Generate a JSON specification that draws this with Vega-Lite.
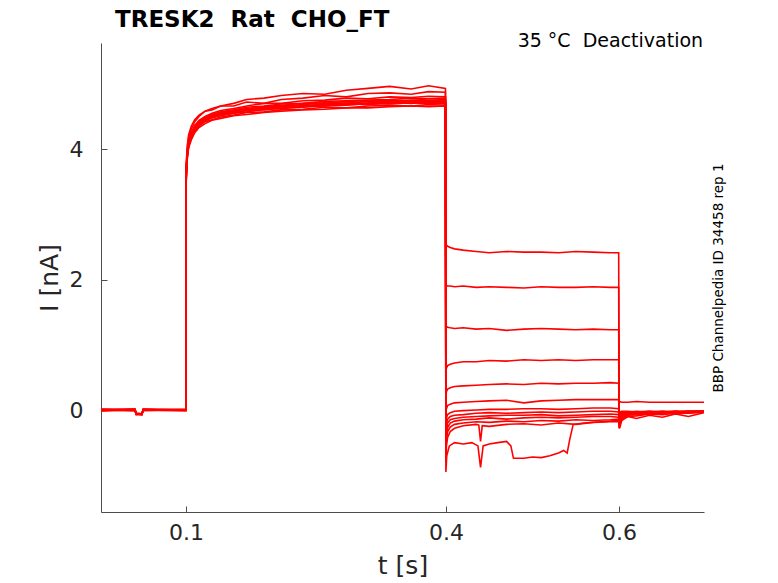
{
  "$schema": "https://vega.github.io/schema/vega-lite/v6.json",
  "width": 603,
  "height": 469,
  "autosize": {"type": "none"},
  "padding": {"left": 101, "top": 43, "right": 74, "bottom": 71},
  "background": "white",
  "title": {
    "text": "TRESK2\u00a0\u00a0Rat\u00a0\u00a0CHO_FT",
    "anchor": "start",
    "frame": "group",
    "dx": 14,
    "offset": 0,
    "font": "DejaVu Sans",
    "fontSize": 23,
    "fontWeight": "bold",
    "color": "black"
  },
  "config": {
    "view": {"stroke": null},
    "font": "DejaVu Sans",
    "axis": {
      "grid": false,
      "domainColor": "#4d4d4d",
      "tickColor": "#4d4d4d",
      "tickSize": -6,
      "labelFont": "DejaVu Sans",
      "labelFontSize": 22,
      "labelColor": "#262626",
      "titleFont": "DejaVu Sans",
      "titleFontSize": 25,
      "titleFontWeight": "normal",
      "titleColor": "#262626"
    }
  },
  "data": {
    "values": [
      {"s":1,"t":0.002,"i":0},{"s":1,"t":0.041,"i":0.01},{"s":1,"t":0.0425,"i":-0.05},{"s":1,"t":0.049,"i":-0.06},{"s":1,"t":0.0505,"i":0},{"s":1,"t":0.0998,"i":0.01},
      {"s":1,"t":0.1,"i":3.45},{"s":1,"t":0.1004,"i":3.68},{"s":1,"t":0.1015,"i":3.93},{"s":1,"t":0.103,"i":4.08},{"s":1,"t":0.106,"i":4.2},{"s":1,"t":0.11,"i":4.3},{"s":1,"t":0.115,"i":4.39},{"s":1,"t":0.122,"i":4.44},{"s":1,"t":0.13,"i":4.51},{"s":1,"t":0.14,"i":4.52},{"s":1,"t":0.155,"i":4.58},{"s":1,"t":0.17,"i":4.59},{"s":1,"t":0.19,"i":4.63},{"s":1,"t":0.21,"i":4.62},{"s":1,"t":0.235,"i":4.67},{"s":1,"t":0.26,"i":4.66},{"s":1,"t":0.285,"i":4.7},{"s":1,"t":0.31,"i":4.68},{"s":1,"t":0.335,"i":4.72},{"s":1,"t":0.36,"i":4.7},{"s":1,"t":0.38,"i":4.73},{"s":1,"t":0.3995,"i":4.72},
      {"s":1,"t":0.4,"i":2.55},{"s":1,"t":0.4006,"i":2.53},{"s":1,"t":0.402,"i":2.51},{"s":1,"t":0.405,"i":2.49},{"s":1,"t":0.41,"i":2.47},{"s":1,"t":0.42,"i":2.45},{"s":1,"t":0.435,"i":2.43},{"s":1,"t":0.45,"i":2.41},{"s":1,"t":0.47,"i":2.43},{"s":1,"t":0.49,"i":2.42},{"s":1,"t":0.51,"i":2.42},{"s":1,"t":0.53,"i":2.41},{"s":1,"t":0.55,"i":2.43},{"s":1,"t":0.57,"i":2.42},{"s":1,"t":0.59,"i":2.41},{"s":1,"t":0.5995,"i":2.41},
      {"s":1,"t":0.6,"i":0.14},{"s":1,"t":0.6006,"i":0.13},{"s":1,"t":0.603,"i":0.12},{"s":1,"t":0.61,"i":0.12},{"s":1,"t":0.62,"i":0.13},{"s":1,"t":0.635,"i":0.12},{"s":1,"t":0.65,"i":0.12},{"s":1,"t":0.665,"i":0.12},{"s":1,"t":0.68,"i":0.12},{"s":1,"t":0.698,"i":0.12},

      {"s":2,"t":0.002,"i":0.01},{"s":2,"t":0.041,"i":0},{"s":2,"t":0.0425,"i":-0.06},{"s":2,"t":0.049,"i":-0.07},{"s":2,"t":0.0505,"i":0.01},{"s":2,"t":0.0998,"i":0},
      {"s":2,"t":0.1,"i":3.5},{"s":2,"t":0.1004,"i":3.78},{"s":2,"t":0.1015,"i":4.02},{"s":2,"t":0.103,"i":4.18},{"s":2,"t":0.106,"i":4.3},{"s":2,"t":0.11,"i":4.42},{"s":2,"t":0.115,"i":4.5},{"s":2,"t":0.122,"i":4.58},{"s":2,"t":0.13,"i":4.62},{"s":2,"t":0.14,"i":4.66},{"s":2,"t":0.155,"i":4.7},{"s":2,"t":0.17,"i":4.76},{"s":2,"t":0.19,"i":4.78},{"s":2,"t":0.21,"i":4.82},{"s":2,"t":0.235,"i":4.85},{"s":2,"t":0.26,"i":4.84},{"s":2,"t":0.285,"i":4.9},{"s":2,"t":0.31,"i":4.93},{"s":2,"t":0.335,"i":4.96},{"s":2,"t":0.36,"i":4.92},{"s":2,"t":0.38,"i":4.97},{"s":2,"t":0.3995,"i":4.93},
      {"s":2,"t":0.4,"i":1.92},{"s":2,"t":0.4006,"i":1.91},{"s":2,"t":0.402,"i":1.9},{"s":2,"t":0.405,"i":1.9},{"s":2,"t":0.41,"i":1.89},{"s":2,"t":0.42,"i":1.9},{"s":2,"t":0.435,"i":1.88},{"s":2,"t":0.45,"i":1.89},{"s":2,"t":0.47,"i":1.88},{"s":2,"t":0.49,"i":1.87},{"s":2,"t":0.51,"i":1.89},{"s":2,"t":0.53,"i":1.88},{"s":2,"t":0.55,"i":1.88},{"s":2,"t":0.57,"i":1.89},{"s":2,"t":0.59,"i":1.88},{"s":2,"t":0.5995,"i":1.88},
      {"s":2,"t":0.6,"i":-0.05},{"s":2,"t":0.6006,"i":-0.03},{"s":2,"t":0.603,"i":-0.02},{"s":2,"t":0.61,"i":-0.02},{"s":2,"t":0.62,"i":-0.03},{"s":2,"t":0.635,"i":-0.02},{"s":2,"t":0.65,"i":-0.03},{"s":2,"t":0.665,"i":-0.02},{"s":2,"t":0.68,"i":-0.03},{"s":2,"t":0.698,"i":-0.02},

      {"s":3,"t":0.002,"i":0},{"s":3,"t":0.041,"i":-0.01},{"s":3,"t":0.0425,"i":-0.06},{"s":3,"t":0.049,"i":-0.06},{"s":3,"t":0.0505,"i":0},{"s":3,"t":0.0998,"i":-0.01},
      {"s":3,"t":0.1,"i":3.44},{"s":3,"t":0.1004,"i":3.7},{"s":3,"t":0.1015,"i":3.96},{"s":3,"t":0.103,"i":4.1},{"s":3,"t":0.106,"i":4.23},{"s":3,"t":0.11,"i":4.33},{"s":3,"t":0.115,"i":4.41},{"s":3,"t":0.122,"i":4.47},{"s":3,"t":0.13,"i":4.5},{"s":3,"t":0.14,"i":4.55},{"s":3,"t":0.155,"i":4.58},{"s":3,"t":0.17,"i":4.61},{"s":3,"t":0.19,"i":4.64},{"s":3,"t":0.21,"i":4.66},{"s":3,"t":0.235,"i":4.68},{"s":3,"t":0.26,"i":4.71},{"s":3,"t":0.285,"i":4.7},{"s":3,"t":0.31,"i":4.73},{"s":3,"t":0.335,"i":4.72},{"s":3,"t":0.36,"i":4.75},{"s":3,"t":0.38,"i":4.74},{"s":3,"t":0.3995,"i":4.75},
      {"s":3,"t":0.4,"i":1.3},{"s":3,"t":0.4006,"i":1.28},{"s":3,"t":0.402,"i":1.27},{"s":3,"t":0.405,"i":1.26},{"s":3,"t":0.41,"i":1.25},{"s":3,"t":0.42,"i":1.26},{"s":3,"t":0.435,"i":1.24},{"s":3,"t":0.45,"i":1.25},{"s":3,"t":0.47,"i":1.22},{"s":3,"t":0.49,"i":1.24},{"s":3,"t":0.51,"i":1.25},{"s":3,"t":0.53,"i":1.24},{"s":3,"t":0.55,"i":1.23},{"s":3,"t":0.57,"i":1.24},{"s":3,"t":0.59,"i":1.23},{"s":3,"t":0.5995,"i":1.23},
      {"s":3,"t":0.6,"i":-0.06},{"s":3,"t":0.6006,"i":-0.04},{"s":3,"t":0.603,"i":-0.03},{"s":3,"t":0.61,"i":-0.03},{"s":3,"t":0.62,"i":-0.02},{"s":3,"t":0.635,"i":-0.03},{"s":3,"t":0.65,"i":-0.02},{"s":3,"t":0.665,"i":-0.03},{"s":3,"t":0.68,"i":-0.02},{"s":3,"t":0.698,"i":-0.02},

      {"s":4,"t":0.002,"i":-0.01},{"s":4,"t":0.041,"i":0},{"s":4,"t":0.0425,"i":-0.05},{"s":4,"t":0.049,"i":-0.06},{"s":4,"t":0.0505,"i":0.01},{"s":4,"t":0.0998,"i":0},
      {"s":4,"t":0.1,"i":3.4},{"s":4,"t":0.1004,"i":3.62},{"s":4,"t":0.1015,"i":3.88},{"s":4,"t":0.103,"i":4.04},{"s":4,"t":0.106,"i":4.16},{"s":4,"t":0.11,"i":4.27},{"s":4,"t":0.115,"i":4.35},{"s":4,"t":0.122,"i":4.42},{"s":4,"t":0.13,"i":4.45},{"s":4,"t":0.14,"i":4.49},{"s":4,"t":0.155,"i":4.52},{"s":4,"t":0.17,"i":4.56},{"s":4,"t":0.19,"i":4.57},{"s":4,"t":0.21,"i":4.6},{"s":4,"t":0.235,"i":4.61},{"s":4,"t":0.26,"i":4.64},{"s":4,"t":0.285,"i":4.63},{"s":4,"t":0.31,"i":4.66},{"s":4,"t":0.335,"i":4.67},{"s":4,"t":0.36,"i":4.66},{"s":4,"t":0.38,"i":4.68},{"s":4,"t":0.3995,"i":4.67},
      {"s":4,"t":0.4,"i":0.6},{"s":4,"t":0.4006,"i":0.64},{"s":4,"t":0.402,"i":0.68},{"s":4,"t":0.405,"i":0.7},{"s":4,"t":0.41,"i":0.72},{"s":4,"t":0.42,"i":0.74},{"s":4,"t":0.435,"i":0.74},{"s":4,"t":0.45,"i":0.76},{"s":4,"t":0.47,"i":0.75},{"s":4,"t":0.49,"i":0.77},{"s":4,"t":0.51,"i":0.76},{"s":4,"t":0.53,"i":0.77},{"s":4,"t":0.55,"i":0.76},{"s":4,"t":0.57,"i":0.77},{"s":4,"t":0.59,"i":0.77},{"s":4,"t":0.5995,"i":0.77},
      {"s":4,"t":0.6,"i":-0.08},{"s":4,"t":0.6006,"i":-0.05},{"s":4,"t":0.603,"i":-0.04},{"s":4,"t":0.61,"i":-0.03},{"s":4,"t":0.62,"i":-0.03},{"s":4,"t":0.635,"i":-0.02},{"s":4,"t":0.65,"i":-0.03},{"s":4,"t":0.665,"i":-0.02},{"s":4,"t":0.68,"i":-0.02},{"s":4,"t":0.698,"i":-0.02},

      {"s":5,"t":0.002,"i":0},{"s":5,"t":0.041,"i":0.01},{"s":5,"t":0.0425,"i":-0.06},{"s":5,"t":0.049,"i":-0.06},{"s":5,"t":0.0505,"i":0},{"s":5,"t":0.0998,"i":0.01},
      {"s":5,"t":0.1,"i":3.48},{"s":5,"t":0.1004,"i":3.74},{"s":5,"t":0.1015,"i":3.98},{"s":5,"t":0.103,"i":4.12},{"s":5,"t":0.106,"i":4.25},{"s":5,"t":0.11,"i":4.36},{"s":5,"t":0.115,"i":4.44},{"s":5,"t":0.122,"i":4.5},{"s":5,"t":0.13,"i":4.55},{"s":5,"t":0.14,"i":4.59},{"s":5,"t":0.155,"i":4.62},{"s":5,"t":0.17,"i":4.66},{"s":5,"t":0.19,"i":4.7},{"s":5,"t":0.21,"i":4.7},{"s":5,"t":0.235,"i":4.74},{"s":5,"t":0.26,"i":4.75},{"s":5,"t":0.285,"i":4.78},{"s":5,"t":0.31,"i":4.77},{"s":5,"t":0.335,"i":4.8},{"s":5,"t":0.36,"i":4.79},{"s":5,"t":0.38,"i":4.81},{"s":5,"t":0.3995,"i":4.8},
      {"s":5,"t":0.4,"i":0.22},{"s":5,"t":0.4006,"i":0.28},{"s":5,"t":0.402,"i":0.32},{"s":5,"t":0.405,"i":0.34},{"s":5,"t":0.41,"i":0.36},{"s":5,"t":0.42,"i":0.37},{"s":5,"t":0.435,"i":0.38},{"s":5,"t":0.45,"i":0.39},{"s":5,"t":0.47,"i":0.4},{"s":5,"t":0.49,"i":0.39},{"s":5,"t":0.51,"i":0.41},{"s":5,"t":0.53,"i":0.4},{"s":5,"t":0.55,"i":0.41},{"s":5,"t":0.57,"i":0.41},{"s":5,"t":0.59,"i":0.42},{"s":5,"t":0.5995,"i":0.41},
      {"s":5,"t":0.6,"i":-0.1},{"s":5,"t":0.6006,"i":-0.06},{"s":5,"t":0.603,"i":-0.04},{"s":5,"t":0.61,"i":-0.04},{"s":5,"t":0.62,"i":-0.03},{"s":5,"t":0.635,"i":-0.03},{"s":5,"t":0.65,"i":-0.02},{"s":5,"t":0.665,"i":-0.03},{"s":5,"t":0.68,"i":-0.02},{"s":5,"t":0.698,"i":-0.02},

      {"s":6,"t":0.002,"i":0.01},{"s":6,"t":0.041,"i":0},{"s":6,"t":0.0425,"i":-0.06},{"s":6,"t":0.049,"i":-0.07},{"s":6,"t":0.0505,"i":-0.01},{"s":6,"t":0.0998,"i":0},
      {"s":6,"t":0.1,"i":3.42},{"s":6,"t":0.1004,"i":3.66},{"s":6,"t":0.1015,"i":3.9},{"s":6,"t":0.103,"i":4.06},{"s":6,"t":0.106,"i":4.19},{"s":6,"t":0.11,"i":4.29},{"s":6,"t":0.115,"i":4.37},{"s":6,"t":0.122,"i":4.45},{"s":6,"t":0.13,"i":4.48},{"s":6,"t":0.14,"i":4.52},{"s":6,"t":0.155,"i":4.55},{"s":6,"t":0.17,"i":4.59},{"s":6,"t":0.19,"i":4.6},{"s":6,"t":0.21,"i":4.63},{"s":6,"t":0.235,"i":4.64},{"s":6,"t":0.26,"i":4.67},{"s":6,"t":0.285,"i":4.68},{"s":6,"t":0.31,"i":4.69},{"s":6,"t":0.335,"i":4.7},{"s":6,"t":0.36,"i":4.71},{"s":6,"t":0.38,"i":4.7},{"s":6,"t":0.3995,"i":4.7},
      {"s":6,"t":0.4,"i":-0.05},{"s":6,"t":0.4006,"i":0.02},{"s":6,"t":0.402,"i":0.07},{"s":6,"t":0.405,"i":0.09},{"s":6,"t":0.41,"i":0.11},{"s":6,"t":0.42,"i":0.12},{"s":6,"t":0.435,"i":0.13},{"s":6,"t":0.45,"i":0.14},{"s":6,"t":0.47,"i":0.15},{"s":6,"t":0.49,"i":0.11},{"s":6,"t":0.51,"i":0.14},{"s":6,"t":0.53,"i":0.15},{"s":6,"t":0.55,"i":0.16},{"s":6,"t":0.57,"i":0.16},{"s":6,"t":0.59,"i":0.16},{"s":6,"t":0.5995,"i":0.16},
      {"s":6,"t":0.6,"i":-0.12},{"s":6,"t":0.6006,"i":-0.08},{"s":6,"t":0.603,"i":-0.05},{"s":6,"t":0.61,"i":-0.04},{"s":6,"t":0.62,"i":-0.03},{"s":6,"t":0.635,"i":-0.04},{"s":6,"t":0.65,"i":-0.03},{"s":6,"t":0.665,"i":-0.02},{"s":6,"t":0.68,"i":-0.03},{"s":6,"t":0.698,"i":-0.02},

      {"s":7,"t":0.002,"i":0},{"s":7,"t":0.041,"i":0},{"s":7,"t":0.0425,"i":-0.07},{"s":7,"t":0.049,"i":-0.06},{"s":7,"t":0.0505,"i":0},{"s":7,"t":0.0998,"i":0.01},
      {"s":7,"t":0.1,"i":3.55},{"s":7,"t":0.1004,"i":3.82},{"s":7,"t":0.1015,"i":4.06},{"s":7,"t":0.103,"i":4.22},{"s":7,"t":0.106,"i":4.35},{"s":7,"t":0.11,"i":4.45},{"s":7,"t":0.115,"i":4.52},{"s":7,"t":0.122,"i":4.58},{"s":7,"t":0.13,"i":4.6},{"s":7,"t":0.14,"i":4.66},{"s":7,"t":0.155,"i":4.66},{"s":7,"t":0.17,"i":4.72},{"s":7,"t":0.19,"i":4.7},{"s":7,"t":0.21,"i":4.76},{"s":7,"t":0.235,"i":4.78},{"s":7,"t":0.26,"i":4.82},{"s":7,"t":0.285,"i":4.8},{"s":7,"t":0.31,"i":4.85},{"s":7,"t":0.335,"i":4.86},{"s":7,"t":0.36,"i":4.84},{"s":7,"t":0.38,"i":4.88},{"s":7,"t":0.3995,"i":4.87},
      {"s":7,"t":0.4,"i":-0.2},{"s":7,"t":0.4006,"i":-0.12},{"s":7,"t":0.402,"i":-0.07},{"s":7,"t":0.405,"i":-0.04},{"s":7,"t":0.41,"i":-0.02},{"s":7,"t":0.42,"i":-0.01},{"s":7,"t":0.435,"i":0},{"s":7,"t":0.45,"i":0.01},{"s":7,"t":0.47,"i":0.01},{"s":7,"t":0.49,"i":0.02},{"s":7,"t":0.51,"i":0.02},{"s":7,"t":0.53,"i":0.01},{"s":7,"t":0.55,"i":0.02},{"s":7,"t":0.57,"i":0.03},{"s":7,"t":0.59,"i":0.03},{"s":7,"t":0.5995,"i":0.02},
      {"s":7,"t":0.6,"i":-0.14},{"s":7,"t":0.6006,"i":-0.1},{"s":7,"t":0.603,"i":-0.06},{"s":7,"t":0.61,"i":-0.05},{"s":7,"t":0.62,"i":-0.04},{"s":7,"t":0.635,"i":-0.03},{"s":7,"t":0.65,"i":-0.03},{"s":7,"t":0.665,"i":-0.03},{"s":7,"t":0.68,"i":-0.02},{"s":7,"t":0.698,"i":-0.02},

      {"s":8,"t":0.002,"i":-0.01},{"s":8,"t":0.041,"i":0.01},{"s":8,"t":0.0425,"i":-0.06},{"s":8,"t":0.049,"i":-0.07},{"s":8,"t":0.0505,"i":0},{"s":8,"t":0.0998,"i":0},
      {"s":8,"t":0.1,"i":3.46},{"s":8,"t":0.1004,"i":3.7},{"s":8,"t":0.1015,"i":3.94},{"s":8,"t":0.103,"i":4.09},{"s":8,"t":0.106,"i":4.21},{"s":8,"t":0.11,"i":4.31},{"s":8,"t":0.115,"i":4.4},{"s":8,"t":0.122,"i":4.46},{"s":8,"t":0.13,"i":4.5},{"s":8,"t":0.14,"i":4.54},{"s":8,"t":0.155,"i":4.57},{"s":8,"t":0.17,"i":4.6},{"s":8,"t":0.19,"i":4.63},{"s":8,"t":0.21,"i":4.65},{"s":8,"t":0.235,"i":4.66},{"s":8,"t":0.26,"i":4.69},{"s":8,"t":0.285,"i":4.7},{"s":8,"t":0.31,"i":4.71},{"s":8,"t":0.335,"i":4.73},{"s":8,"t":0.36,"i":4.72},{"s":8,"t":0.38,"i":4.74},{"s":8,"t":0.3995,"i":4.73},
      {"s":8,"t":0.4,"i":-0.35},{"s":8,"t":0.4006,"i":-0.22},{"s":8,"t":0.402,"i":-0.14},{"s":8,"t":0.405,"i":-0.1},{"s":8,"t":0.41,"i":-0.08},{"s":8,"t":0.42,"i":-0.07},{"s":8,"t":0.435,"i":-0.05},{"s":8,"t":0.45,"i":-0.04},{"s":8,"t":0.47,"i":-0.05},{"s":8,"t":0.49,"i":-0.04},{"s":8,"t":0.51,"i":-0.03},{"s":8,"t":0.53,"i":-0.04},{"s":8,"t":0.55,"i":-0.03},{"s":8,"t":0.57,"i":-0.02},{"s":8,"t":0.59,"i":-0.02},{"s":8,"t":0.5995,"i":-0.03},
      {"s":8,"t":0.6,"i":-0.16},{"s":8,"t":0.6006,"i":-0.12},{"s":8,"t":0.603,"i":-0.07},{"s":8,"t":0.61,"i":-0.05},{"s":8,"t":0.62,"i":-0.05},{"s":8,"t":0.635,"i":-0.04},{"s":8,"t":0.65,"i":-0.03},{"s":8,"t":0.665,"i":-0.03},{"s":8,"t":0.68,"i":-0.03},{"s":8,"t":0.698,"i":-0.02},

      {"s":9,"t":0.002,"i":0},{"s":9,"t":0.041,"i":0},{"s":9,"t":0.0425,"i":-0.05},{"s":9,"t":0.049,"i":-0.06},{"s":9,"t":0.0505,"i":0.01},{"s":9,"t":0.0998,"i":0},
      {"s":9,"t":0.1,"i":3.38},{"s":9,"t":0.1004,"i":3.6},{"s":9,"t":0.1015,"i":3.86},{"s":9,"t":0.103,"i":4.02},{"s":9,"t":0.106,"i":4.14},{"s":9,"t":0.11,"i":4.25},{"s":9,"t":0.115,"i":4.33},{"s":9,"t":0.122,"i":4.39},{"s":9,"t":0.13,"i":4.44},{"s":9,"t":0.14,"i":4.47},{"s":9,"t":0.155,"i":4.51},{"s":9,"t":0.17,"i":4.53},{"s":9,"t":0.19,"i":4.56},{"s":9,"t":0.21,"i":4.58},{"s":9,"t":0.235,"i":4.6},{"s":9,"t":0.26,"i":4.61},{"s":9,"t":0.285,"i":4.63},{"s":9,"t":0.31,"i":4.63},{"s":9,"t":0.335,"i":4.65},{"s":9,"t":0.36,"i":4.66},{"s":9,"t":0.38,"i":4.65},{"s":9,"t":0.3995,"i":4.66},
      {"s":9,"t":0.4,"i":-0.5},{"s":9,"t":0.4006,"i":-0.3},{"s":9,"t":0.402,"i":-0.2},{"s":9,"t":0.405,"i":-0.15},{"s":9,"t":0.41,"i":-0.13},{"s":9,"t":0.42,"i":-0.11},{"s":9,"t":0.435,"i":-0.1},{"s":9,"t":0.45,"i":-0.09},{"s":9,"t":0.47,"i":-0.08},{"s":9,"t":0.49,"i":-0.08},{"s":9,"t":0.51,"i":-0.07},{"s":9,"t":0.53,"i":-0.09},{"s":9,"t":0.55,"i":-0.08},{"s":9,"t":0.57,"i":-0.07},{"s":9,"t":0.59,"i":-0.06},{"s":9,"t":0.5995,"i":-0.07},
      {"s":9,"t":0.6,"i":-0.18},{"s":9,"t":0.6006,"i":-0.14},{"s":9,"t":0.603,"i":-0.09},{"s":9,"t":0.61,"i":-0.06},{"s":9,"t":0.62,"i":-0.05},{"s":9,"t":0.635,"i":-0.04},{"s":9,"t":0.65,"i":-0.04},{"s":9,"t":0.665,"i":-0.03},{"s":9,"t":0.68,"i":-0.03},{"s":9,"t":0.698,"i":-0.03},

      {"s":10,"t":0.002,"i":0.01},{"s":10,"t":0.041,"i":0.01},{"s":10,"t":0.0425,"i":-0.06},{"s":10,"t":0.049,"i":-0.05},{"s":10,"t":0.0505,"i":0},{"s":10,"t":0.0998,"i":-0.01},
      {"s":10,"t":0.1,"i":3.47},{"s":10,"t":0.1004,"i":3.72},{"s":10,"t":0.1015,"i":3.97},{"s":10,"t":0.103,"i":4.11},{"s":10,"t":0.106,"i":4.24},{"s":10,"t":0.11,"i":4.34},{"s":10,"t":0.115,"i":4.42},{"s":10,"t":0.122,"i":4.49},{"s":10,"t":0.13,"i":4.53},{"s":10,"t":0.14,"i":4.57},{"s":10,"t":0.155,"i":4.6},{"s":10,"t":0.17,"i":4.64},{"s":10,"t":0.19,"i":4.66},{"s":10,"t":0.21,"i":4.69},{"s":10,"t":0.235,"i":4.7},{"s":10,"t":0.26,"i":4.73},{"s":10,"t":0.285,"i":4.74},{"s":10,"t":0.31,"i":4.75},{"s":10,"t":0.335,"i":4.76},{"s":10,"t":0.36,"i":4.78},{"s":10,"t":0.38,"i":4.77},{"s":10,"t":0.3995,"i":4.78},
      {"s":10,"t":0.4,"i":-0.6},{"s":10,"t":0.4006,"i":-0.38},{"s":10,"t":0.402,"i":-0.27},{"s":10,"t":0.405,"i":-0.2},{"s":10,"t":0.41,"i":-0.17},{"s":10,"t":0.42,"i":-0.15},{"s":10,"t":0.435,"i":-0.14},{"s":10,"t":0.45,"i":-0.12},{"s":10,"t":0.47,"i":-0.14},{"s":10,"t":0.49,"i":-0.12},{"s":10,"t":0.51,"i":-0.11},{"s":10,"t":0.53,"i":-0.12},{"s":10,"t":0.55,"i":-0.11},{"s":10,"t":0.57,"i":-0.1},{"s":10,"t":0.59,"i":-0.1},{"s":10,"t":0.5995,"i":-0.11},
      {"s":10,"t":0.6,"i":-0.2},{"s":10,"t":0.6006,"i":-0.15},{"s":10,"t":0.603,"i":-0.1},{"s":10,"t":0.61,"i":-0.07},{"s":10,"t":0.62,"i":-0.06},{"s":10,"t":0.635,"i":-0.05},{"s":10,"t":0.65,"i":-0.04},{"s":10,"t":0.665,"i":-0.03},{"s":10,"t":0.68,"i":-0.04},{"s":10,"t":0.698,"i":-0.03},

      {"s":11,"t":0.002,"i":0},{"s":11,"t":0.041,"i":-0.01},{"s":11,"t":0.0425,"i":-0.07},{"s":11,"t":0.049,"i":-0.06},{"s":11,"t":0.0505,"i":0},{"s":11,"t":0.0998,"i":0},
      {"s":11,"t":0.1,"i":3.43},{"s":11,"t":0.1004,"i":3.67},{"s":11,"t":0.1015,"i":3.92},{"s":11,"t":0.103,"i":4.07},{"s":11,"t":0.106,"i":4.21},{"s":11,"t":0.11,"i":4.3},{"s":11,"t":0.115,"i":4.38},{"s":11,"t":0.122,"i":4.45},{"s":11,"t":0.13,"i":4.49},{"s":11,"t":0.14,"i":4.53},{"s":11,"t":0.155,"i":4.56},{"s":11,"t":0.17,"i":4.6},{"s":11,"t":0.19,"i":4.61},{"s":11,"t":0.21,"i":4.65},{"s":11,"t":0.235,"i":4.66},{"s":11,"t":0.26,"i":4.68},{"s":11,"t":0.285,"i":4.7},{"s":11,"t":0.31,"i":4.69},{"s":11,"t":0.335,"i":4.71},{"s":11,"t":0.36,"i":4.72},{"s":11,"t":0.38,"i":4.71},{"s":11,"t":0.3995,"i":4.72},
      {"s":11,"t":0.4,"i":-0.7},{"s":11,"t":0.4006,"i":-0.45},{"s":11,"t":0.402,"i":-0.33},{"s":11,"t":0.405,"i":-0.26},{"s":11,"t":0.41,"i":-0.22},{"s":11,"t":0.42,"i":-0.2},{"s":11,"t":0.435,"i":-0.18},{"s":11,"t":0.45,"i":-0.19},{"s":11,"t":0.47,"i":-0.17},{"s":11,"t":0.49,"i":-0.18},{"s":11,"t":0.51,"i":-0.16},{"s":11,"t":0.53,"i":-0.17},{"s":11,"t":0.55,"i":-0.15},{"s":11,"t":0.57,"i":-0.16},{"s":11,"t":0.59,"i":-0.15},{"s":11,"t":0.5995,"i":-0.14},
      {"s":11,"t":0.6,"i":-0.24},{"s":11,"t":0.6006,"i":-0.18},{"s":11,"t":0.603,"i":-0.12},{"s":11,"t":0.61,"i":-0.08},{"s":11,"t":0.62,"i":-0.07},{"s":11,"t":0.635,"i":-0.05},{"s":11,"t":0.65,"i":-0.05},{"s":11,"t":0.665,"i":-0.04},{"s":11,"t":0.68,"i":-0.04},{"s":11,"t":0.698,"i":-0.03},

      {"s":12,"t":0.002,"i":0},{"s":12,"t":0.041,"i":0.01},{"s":12,"t":0.0425,"i":-0.06},{"s":12,"t":0.049,"i":-0.06},{"s":12,"t":0.0505,"i":0},{"s":12,"t":0.0998,"i":0},
      {"s":12,"t":0.1,"i":3.45},{"s":12,"t":0.1004,"i":3.71},{"s":12,"t":0.1015,"i":3.95},{"s":12,"t":0.103,"i":4.1},{"s":12,"t":0.106,"i":4.22},{"s":12,"t":0.11,"i":4.33},{"s":12,"t":0.115,"i":4.41},{"s":12,"t":0.122,"i":4.47},{"s":12,"t":0.13,"i":4.52},{"s":12,"t":0.14,"i":4.55},{"s":12,"t":0.155,"i":4.59},{"s":12,"t":0.17,"i":4.62},{"s":12,"t":0.19,"i":4.65},{"s":12,"t":0.21,"i":4.67},{"s":12,"t":0.235,"i":4.7},{"s":12,"t":0.26,"i":4.7},{"s":12,"t":0.285,"i":4.73},{"s":12,"t":0.31,"i":4.74},{"s":12,"t":0.335,"i":4.75},{"s":12,"t":0.36,"i":4.74},{"s":12,"t":0.38,"i":4.77},{"s":12,"t":0.3995,"i":4.76},
      {"s":12,"t":0.4,"i":-0.8},{"s":12,"t":0.4006,"i":-0.55},{"s":12,"t":0.402,"i":-0.42},{"s":12,"t":0.405,"i":-0.33},{"s":12,"t":0.41,"i":-0.28},{"s":12,"t":0.42,"i":-0.24},{"s":12,"t":0.435,"i":-0.22},{"s":12,"t":0.438,"i":-0.23},{"s":12,"t":0.44,"i":-0.48},{"s":12,"t":0.442,"i":-0.24},{"s":12,"t":0.45,"i":-0.25},{"s":12,"t":0.47,"i":-0.22},{"s":12,"t":0.49,"i":-0.21},{"s":12,"t":0.51,"i":-0.23},{"s":12,"t":0.53,"i":-0.2},{"s":12,"t":0.55,"i":-0.22},{"s":12,"t":0.57,"i":-0.19},{"s":12,"t":0.59,"i":-0.18},{"s":12,"t":0.5995,"i":-0.18},
      {"s":12,"t":0.6,"i":-0.28},{"s":12,"t":0.6006,"i":-0.22},{"s":12,"t":0.603,"i":-0.14},{"s":12,"t":0.61,"i":-0.1},{"s":12,"t":0.62,"i":-0.09},{"s":12,"t":0.635,"i":-0.06},{"s":12,"t":0.65,"i":-0.07},{"s":12,"t":0.665,"i":-0.05},{"s":12,"t":0.68,"i":-0.05},{"s":12,"t":0.698,"i":-0.03},

      {"s":13,"t":0.002,"i":-0.01},{"s":13,"t":0.041,"i":0},{"s":13,"t":0.0425,"i":-0.06},{"s":13,"t":0.049,"i":-0.07},{"s":13,"t":0.0505,"i":0.01},{"s":13,"t":0.0998,"i":0},
      {"s":13,"t":0.1,"i":3.41},{"s":13,"t":0.1004,"i":3.65},{"s":13,"t":0.1015,"i":3.91},{"s":13,"t":0.103,"i":4.05},{"s":13,"t":0.106,"i":4.18},{"s":13,"t":0.11,"i":4.28},{"s":13,"t":0.115,"i":4.36},{"s":13,"t":0.122,"i":4.43},{"s":13,"t":0.13,"i":4.48},{"s":13,"t":0.14,"i":4.51},{"s":13,"t":0.155,"i":4.55},{"s":13,"t":0.17,"i":4.57},{"s":13,"t":0.19,"i":4.61},{"s":13,"t":0.21,"i":4.62},{"s":13,"t":0.235,"i":4.65},{"s":13,"t":0.26,"i":4.66},{"s":13,"t":0.285,"i":4.67},{"s":13,"t":0.31,"i":4.7},{"s":13,"t":0.335,"i":4.69},{"s":13,"t":0.36,"i":4.71},{"s":13,"t":0.38,"i":4.7},{"s":13,"t":0.3995,"i":4.7},
      {"s":13,"t":0.4,"i":-0.95},{"s":13,"t":0.401,"i":-0.7},{"s":13,"t":0.404,"i":-0.55},{"s":13,"t":0.41,"i":-0.5},{"s":13,"t":0.42,"i":-0.52},{"s":13,"t":0.43,"i":-0.5},{"s":13,"t":0.437,"i":-0.55},{"s":13,"t":0.44,"i":-0.88},{"s":13,"t":0.443,"i":-0.55},{"s":13,"t":0.45,"i":-0.52},{"s":13,"t":0.46,"i":-0.5},{"s":13,"t":0.47,"i":-0.48},{"s":13,"t":0.475,"i":-0.55},{"s":13,"t":0.478,"i":-0.74},{"s":13,"t":0.49,"i":-0.74},{"s":13,"t":0.5,"i":-0.72},{"s":13,"t":0.51,"i":-0.73},{"s":13,"t":0.52,"i":-0.7},{"s":13,"t":0.53,"i":-0.66},{"s":13,"t":0.536,"i":-0.62},{"s":13,"t":0.54,"i":-0.66},{"s":13,"t":0.543,"i":-0.45},{"s":13,"t":0.547,"i":-0.22},{"s":13,"t":0.56,"i":-0.2},{"s":13,"t":0.58,"i":-0.18},{"s":13,"t":0.5995,"i":-0.16},
      {"s":13,"t":0.6,"i":-0.22},{"s":13,"t":0.6006,"i":-0.28},{"s":13,"t":0.603,"i":-0.16},{"s":13,"t":0.61,"i":-0.1},{"s":13,"t":0.62,"i":-0.13},{"s":13,"t":0.635,"i":-0.08},{"s":13,"t":0.65,"i":-0.11},{"s":13,"t":0.665,"i":-0.06},{"s":13,"t":0.68,"i":-0.1},{"s":13,"t":0.698,"i":-0.04}
    ]
  },
  "layer": [
    {
      "mark": {"type": "line", "color": "#ff0000", "strokeWidth": 1.6, "clip": true},
      "encoding": {
        "x": {
          "field": "t",
          "type": "quantitative",
          "scale": {"domain": [0.0018, 0.698], "nice": false, "zero": false},
          "axis": {"values": [0.1, 0.4, 0.6], "format": ".1f", "title": "t [s]", "labelPadding": 16, "titlePadding": 10}
        },
        "y": {
          "field": "i",
          "type": "quantitative",
          "scale": {"domain": [-1.563, 5.625], "nice": false, "zero": false},
          "axis": {"values": [0, 2, 4], "format": "d", "title": "I [nA]", "labelPadding": 24, "titlePadding": 7}
        },
        "detail": {"field": "s", "type": "nominal"},
        "order": {"field": "t", "type": "quantitative"}
      }
    },
    {
      "data": {"values": [{"label": "35 °C\u00a0\u00a0Deactivation"}]},
      "mark": {"type": "text", "align": "right", "baseline": "alphabetic", "fontSize": 19, "color": "black", "font": "DejaVu Sans"},
      "encoding": {
        "text": {"field": "label", "type": "nominal"},
        "x": {"datum": 0.697, "type": "quantitative"},
        "y": {
          "datum": 5.563,
          "type": "quantitative",
          "axis": {"orient": "right", "domain": false, "ticks": false, "labels": false, "title": "BBP Channelpedia ID 34458 rep 1", "titleAngle": 270, "titleBaseline": "top", "titleFontSize": 13.5, "titleColor": "black", "titlePadding": 7}
        }
      }
    }
  ],
  "resolve": {"axis": {"y": "independent"}}
}
